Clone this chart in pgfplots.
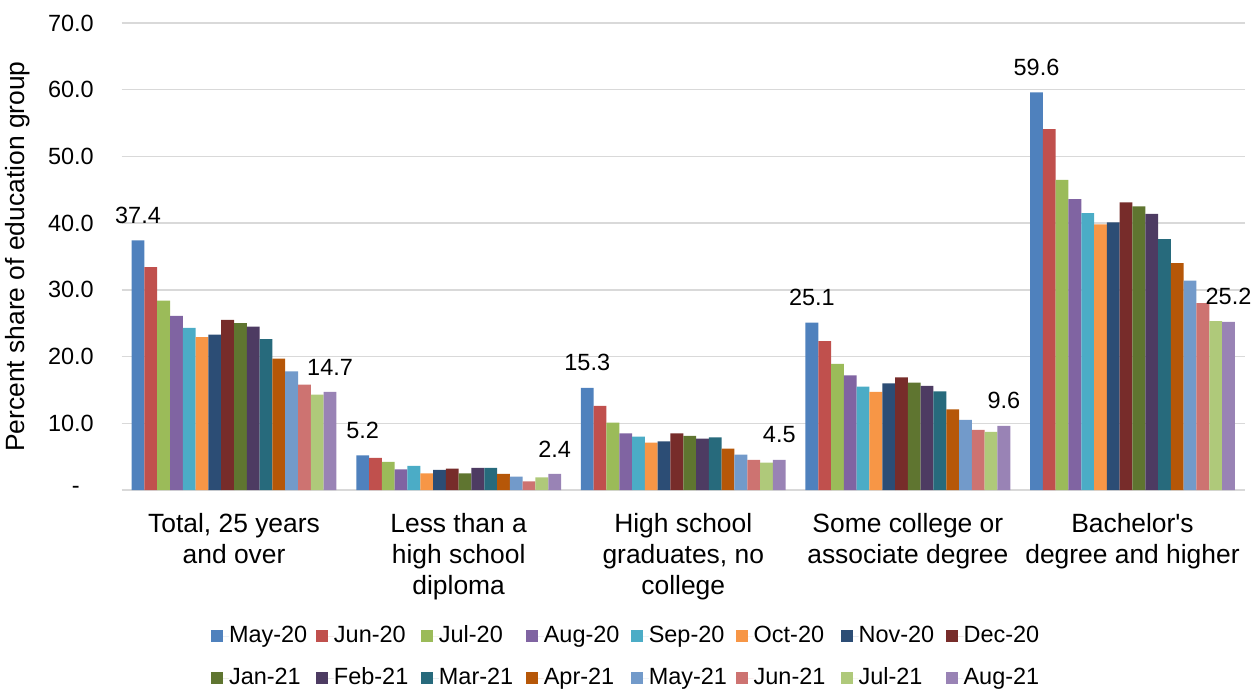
\documentclass[border=0pt]{standalone}
\usepackage{pgfplots}
\pgfplotsset{compat=1.18}
\usepackage{fontspec}
\setmainfont{Liberation Sans}
\definecolor{c1}{HTML}{4F81BD}
\definecolor{c2}{HTML}{C0504D}
\definecolor{c3}{HTML}{9BBB59}
\definecolor{c4}{HTML}{8064A2}
\definecolor{c5}{HTML}{4BACC6}
\definecolor{c6}{HTML}{F79646}
\definecolor{c7}{HTML}{2C4D75}
\definecolor{c8}{HTML}{772C2A}
\definecolor{c9}{HTML}{5F7530}
\definecolor{c10}{HTML}{4D3B62}
\definecolor{c11}{HTML}{276A7C}
\definecolor{c12}{HTML}{B65708}
\definecolor{c13}{HTML}{729ACA}
\definecolor{c14}{HTML}{CD7371}
\definecolor{c15}{HTML}{AFC97A}
\definecolor{c16}{HTML}{9983B5}
\definecolor{gridc}{HTML}{D9D9D9}
\newcommand{\lent}[1]{\makebox[65.4pt][l]{#1}}
\begin{document}
\begin{tikzpicture}
\begin{axis}[
  at={(0,0)}, anchor=south west,
  scale only axis,
  width=842.3pt, height=350.25pt,
  ybar=0pt, bar width=9.6pt,
  xmin=-0.5, xmax=4.5, ymin=0, ymax=70,
  xtick={0,1,2,3,4},
  xticklabels={{Total, 25 years\\and over},{Less than a\\high school\\diploma},{High school\\graduates, no\\college},{Some college or\\associate degree},{Bachelor\textquotesingle s\\degree and higher}},
  ytick={0,10,20,30,40,50,60,70},
  yticklabels={{-\kern10.5pt},10.0,20.0,30.0,40.0,50.0,60.0,70.0},
  ymajorgrids, grid style={draw=gridc, line width=1.1pt},
  axis line style={draw=none},
  major tick length=0pt,
  yticklabel style={font=\fontsize{17.6}{21}\selectfont, inner sep=0pt, xshift=-20.8pt, anchor=east},
  xticklabel style={font=\fontsize{19.8}{23.25}\selectfont, align=center, inner sep=0pt, yshift=-17pt, anchor=north},
  ylabel={Percent share of education group},
  every axis y label/.style={at={(axis description cs:-0.0924,0.5)}, anchor=center, rotate=90, font=\fontsize{19.8}{23}\selectfont},
  every node near coord/.append style={font=\fontsize{17.6}{21}\selectfont, inner sep=0pt, yshift=12.5pt, text=black},
  nodes near coords style={/pgf/number format/.cd, fixed, fixed zerofill, precision=1, assume math mode=true},
  legend columns=8,
  legend image code/.code={\fill[#1] (0pt,-4.5pt) rectangle (9pt,4.5pt); \path (0pt,0pt) -- (13.3pt,0pt);},
  legend style={at={(axis description cs:0.4535,-0.3576)}, anchor=center, draw=none, fill=none,
    font=\fontsize{17.6}{21}\selectfont, column sep=0pt, row sep=15pt,
    nodes={inner sep=0pt, text height=13pt, text depth=3.5pt}},
]
\addplot[fill=c1, draw=none, nodes near coords] coordinates {(0,37.4) (1,5.2) (2,15.3) (3,25.1) (4,59.6)};
\addplot[fill=c2, draw=none] coordinates {(0,33.4) (1,4.8) (2,12.6) (3,22.3) (4,54.1)};
\addplot[fill=c3, draw=none] coordinates {(0,28.4) (1,4.2) (2,10.1) (3,18.9) (4,46.5)};
\addplot[fill=c4, draw=none] coordinates {(0,26.1) (1,3.1) (2,8.5) (3,17.2) (4,43.6)};
\addplot[fill=c5, draw=none] coordinates {(0,24.3) (1,3.6) (2,8.0) (3,15.5) (4,41.5)};
\addplot[fill=c6, draw=none] coordinates {(0,22.9) (1,2.5) (2,7.1) (3,14.7) (4,39.8)};
\addplot[fill=c7, draw=none] coordinates {(0,23.3) (1,3.0) (2,7.3) (3,16.0) (4,40.1)};
\addplot[fill=c8, draw=none] coordinates {(0,25.5) (1,3.2) (2,8.5) (3,16.9) (4,43.1)};
\addplot[fill=c9, draw=none] coordinates {(0,25.0) (1,2.5) (2,8.1) (3,16.1) (4,42.5)};
\addplot[fill=c10, draw=none] coordinates {(0,24.5) (1,3.3) (2,7.7) (3,15.6) (4,41.4)};
\addplot[fill=c11, draw=none] coordinates {(0,22.6) (1,3.3) (2,7.9) (3,14.8) (4,37.6)};
\addplot[fill=c12, draw=none] coordinates {(0,19.7) (1,2.4) (2,6.2) (3,12.1) (4,34.0)};
\addplot[fill=c13, draw=none] coordinates {(0,17.8) (1,2.0) (2,5.3) (3,10.5) (4,31.4)};
\addplot[fill=c14, draw=none] coordinates {(0,15.8) (1,1.3) (2,4.5) (3,9.0) (4,28.0)};
\addplot[fill=c15, draw=none] coordinates {(0,14.3) (1,1.9) (2,4.1) (3,8.7) (4,25.3)};
\addplot[fill=c16, draw=none, nodes near coords] coordinates {(0,14.7) (1,2.4) (2,4.5) (3,9.6) (4,25.2)};
\legend{\lent{May-20},\lent{Jun-20},\lent{Jul-20},\lent{Aug-20},\lent{Sep-20},\lent{Oct-20},\lent{Nov-20},\lent{Dec-20},\lent{Jan-21},\lent{Feb-21},\lent{Mar-21},\lent{Apr-21},\lent{May-21},\lent{Jun-21},\lent{Jul-21},\lent{Aug-21}}
\end{axis}
\pgfresetboundingbox
\path[use as bounding box] (-91.3pt,-150pt) rectangle (851.45pt,367.5pt);
\end{tikzpicture}
\end{document}
